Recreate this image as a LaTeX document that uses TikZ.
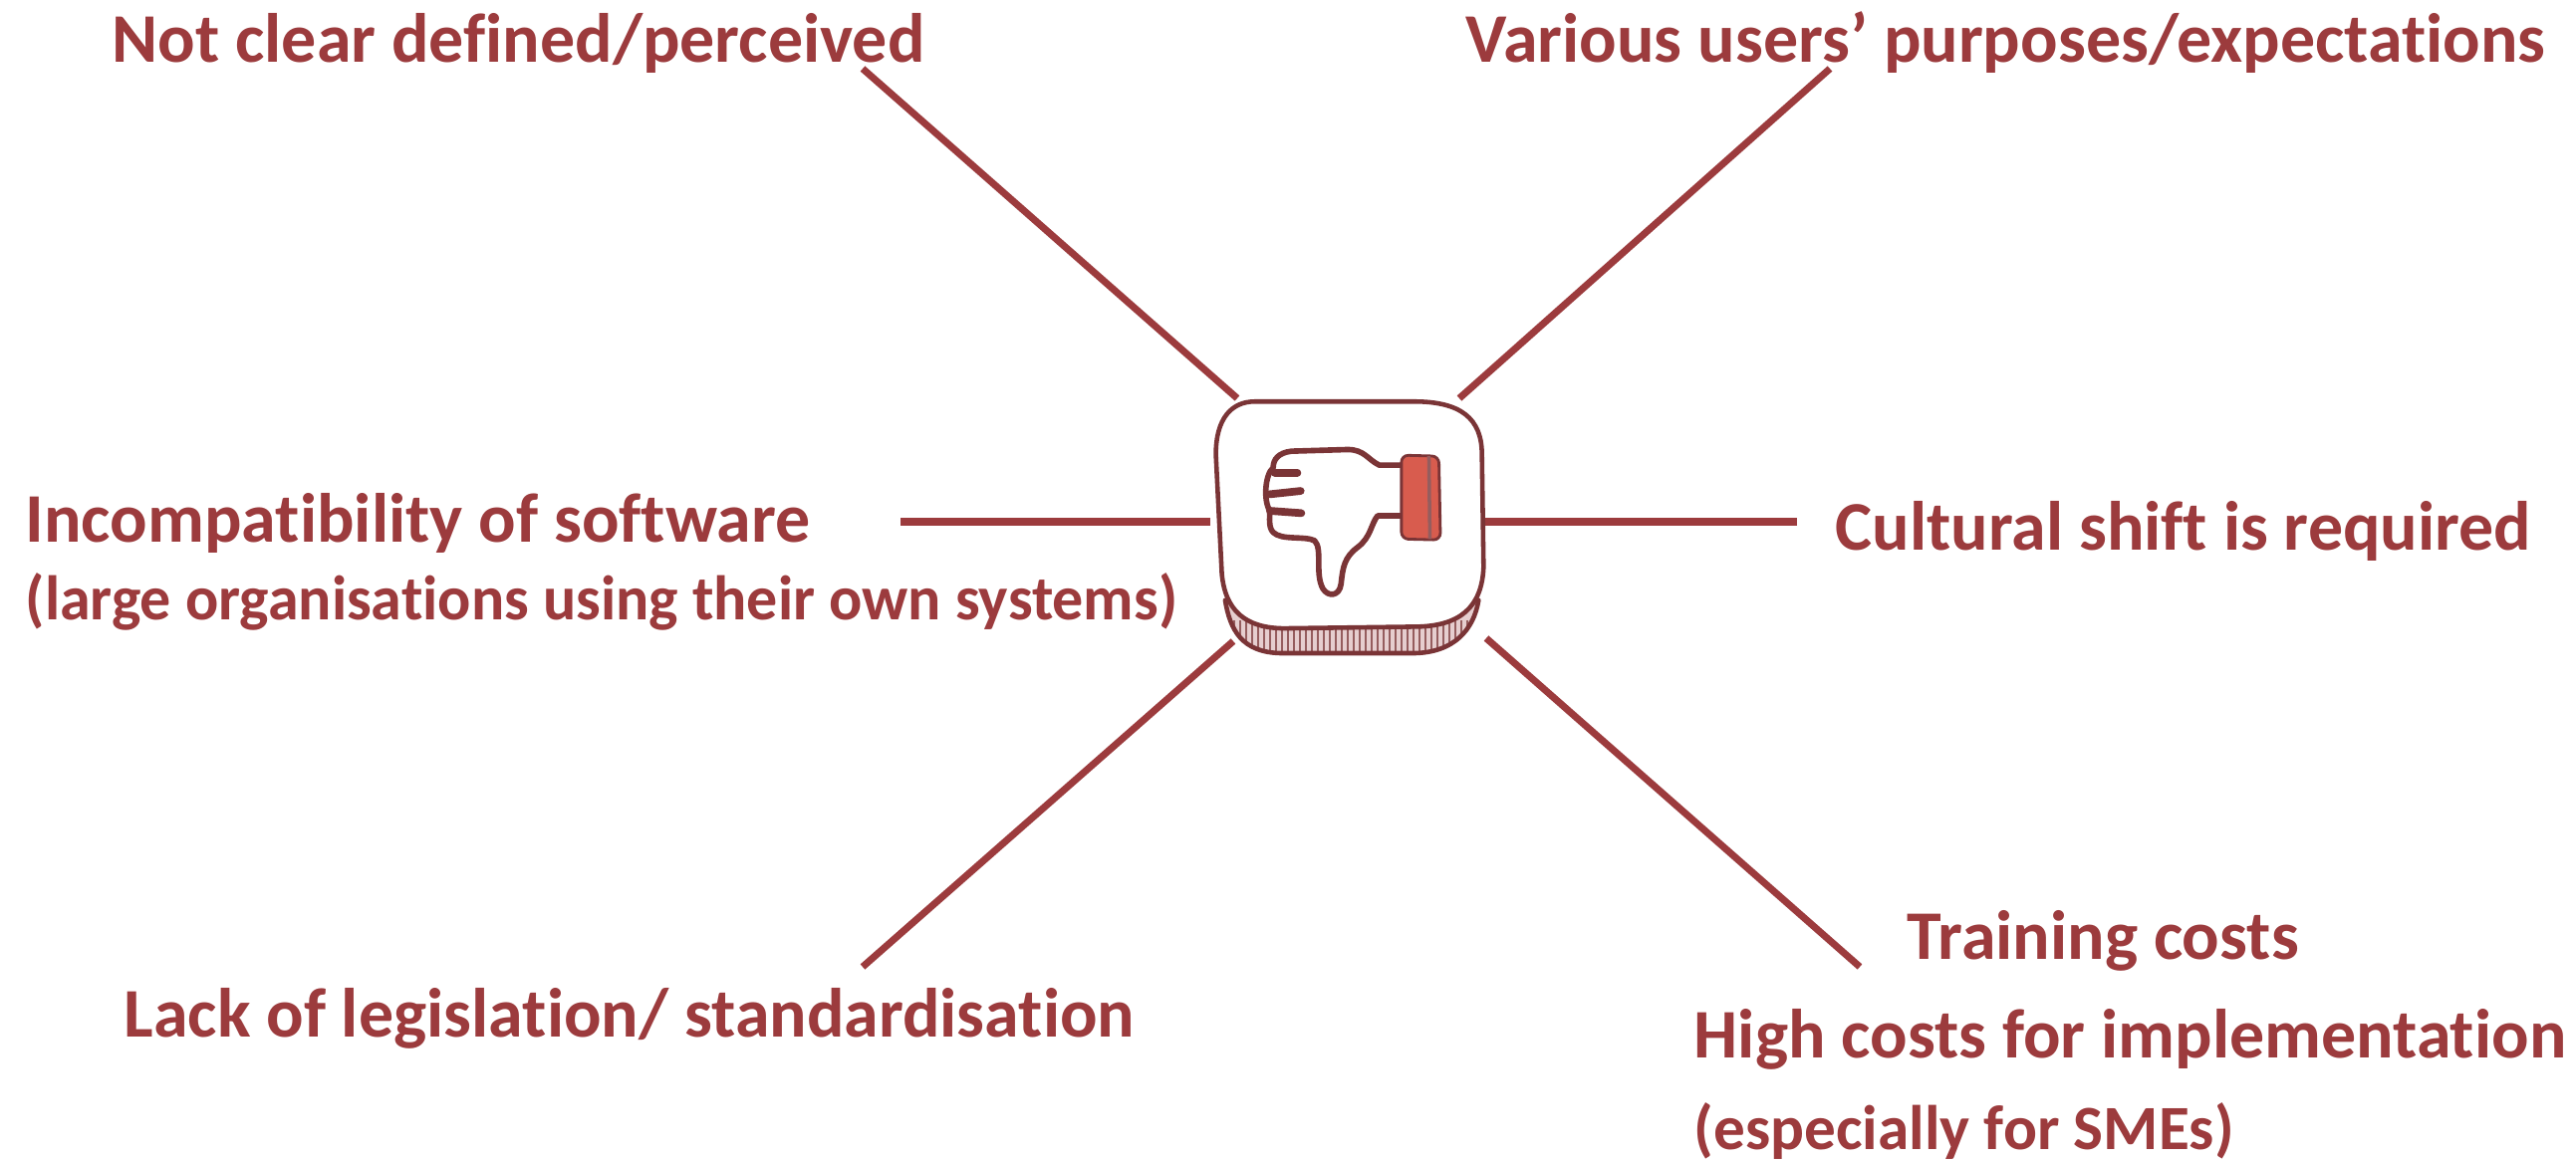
\documentclass[tikz,border=0pt]{standalone}
\usepackage{fontspec}
\setmainfont[Ligatures=NoCommon]{Carlito}
\definecolor{wine}{HTML}{9C3B3D}
\definecolor{sketch}{HTML}{7A3436}
\definecolor{cuff}{HTML}{D85C4E}
\tikzset{
    label/.style={text=wine, font=\fontsize{19.9}{24}\bfseries\selectfont, inner sep=0pt, anchor=base west},
    sublabel/.style={label, font=\fontsize{18}{22}\bfseries\selectfont},
    spoke/.style={draw=wine, line width=2pt},
    sketchline/.style={draw=sketch, line width=1.3pt, line cap=round, line join=round}
}

\begin{document}
\begin{tikzpicture}
    \useasboundingbox (0, 0) rectangle (25.86, 11.66);
    \node[label] (clear) at (1.12, 11.03) {Not clear defined/perceived};
    \node[label] (users) at (14.71, 11.03) {Various users’ purposes/expectations};
    \node[label] (software) at (0.25, 6.21) {Incompatibility of software};
    \node[sublabel, xscale=0.98] (large) at (0.25, 5.43) {(large organisations using their own systems)};
    \node[label] (shift) at (18.42, 6.13) {Cultural shift is required};
    \node[label] (legal) at (1.24, 1.24) {Lack of legislation/ standardisation};
    \node[label] (training) at (19.14, 2.02) {Training costs};
    \node[label] (high) at (17.0, 1.03) {High costs for implementation};
    \node[sublabel] (sme) at (17.0, 0.12) {(especially for SMEs)};

    \node[inner sep=0pt, minimum width=2.7cm, minimum height=2.54cm] (thumb) at (13.56, 5.16) {};
    \coordinate (clearend) at (8.66, 10.97);
    \coordinate (usersend) at (18.37, 10.97);
    \coordinate (softwareend) at (9.04, 6.42);
    \coordinate (shiftend) at (18.04, 6.42);
    \coordinate (legalend) at (8.66, 1.95);
    \coordinate (costend) at (18.67, 1.95);
    \draw[spoke] (clearend) -- (12.42, 7.66);
    \draw[spoke] (usersend) -- (14.65, 7.66);
    \draw[spoke] (softwareend) -- (12.15, 6.42);
    \draw[spoke] (shiftend) -- (14.91, 6.42);
    \draw[spoke] (legalend) -- (12.38, 5.22);
    \draw[spoke] (costend) -- (14.92, 5.25);

    \begin{scope}[shift={(11.8, 7.96)}, x=0.003333cm, y=-0.003333cm]
        % base
        \begin{scope}
            \clip (150, 700) .. controls (165, 790) and (200, 858) .. (320, 860) -- (720, 860) .. controls (840, 858) and (900, 790) .. (915, 700) -- cycle;
            \fill[wine!25] (140, 690) rectangle (930, 870);
            \foreach \hx in {160, 178, ..., 910} {
                \draw[sketch!80, line width=0.6pt] (\hx, 760) -- (\hx, 865);
            }
        \end{scope}
        \draw[sketchline] (150, 700) .. controls (165, 790) and (200, 858) .. (320, 860) -- (720, 860) .. controls (840, 858) and (900, 790) .. (915, 700);
        % face
        \filldraw[sketchline, fill=white] (240, 100) -- (720, 100) .. controls (860, 100) and (925, 150) .. (925, 260) -- (930, 600) .. controls (925, 720) and (860, 780) .. (720, 780) -- (330, 785) .. controls (210, 785) and (150, 730) .. (140, 620) -- (122, 260) .. controls (122, 150) and (170, 100) .. (240, 100) -- cycle;
        % hand
        \filldraw[sketchline, line width=1.6pt, fill=white] (680, 292) -- (615, 292) .. controls (580, 275) and (570, 245) .. (520, 245) -- (350, 250) .. controls (310, 255) and (295, 275) .. (295, 300) .. controls (270, 320) and (265, 400) .. (285, 430) .. controls (285, 450) and (280, 480) .. (295, 495) .. controls (320, 520) and (390, 505) .. (420, 520) .. controls (445, 545) and (420, 620) .. (445, 665) .. controls (460, 690) and (495, 690) .. (500, 650) .. controls (505, 600) and (510, 570) .. (550, 540) .. controls (590, 510) and (590, 470) .. (610, 445) -- (680, 445);
        \draw[sketchline, line width=2.2pt] (300, 315) -- (368, 315);
        \draw[sketchline, line width=2.2pt] (285, 380) -- (378, 370);
        \draw[sketchline, line width=2.2pt] (285, 430) -- (380, 437);
        % cuff
        \filldraw[draw=sketch, line width=0.8pt, fill=cuff, rounded corners=2pt] (682, 262) -- (795, 265) -- (800, 518) -- (682, 515) -- cycle;
        \draw[draw=sketch!80, line width=1pt] (765, 265) -- (768, 515);
    \end{scope}
\end{tikzpicture}
\end{document}
